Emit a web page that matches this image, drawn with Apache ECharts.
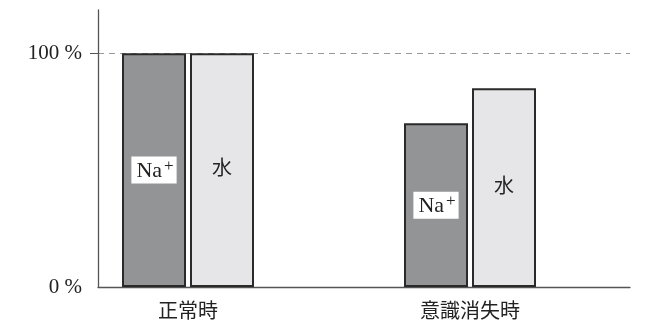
<!DOCTYPE html>
<html>
<head>
<meta charset="utf-8">
<script src="https://cdn.jsdelivr.net/npm/echarts@6/dist/echarts.min.js"></script>
<style>html,body{margin:0;padding:0;background:#fff}#c{width:654px;height:331px}</style>
</head>
<body>
<div id="c"></div>
<script>
const categories = ['正常時', '意識消失時'];
const seriesNames = ['Na+', '水'];
const naValues = [100, 70];
const waterValues = [100, 85];
const yTickLabels = {0: '0 %', 100: '100 %'};

const FONT = '"Liberation Serif", "Noto Sans CJK JP", serif';
const chart = echarts.init(document.getElementById('c'));
chart.setOption({
  animation: false,
  backgroundColor: '#fff',
  grid: [
    {left: 47, right: 43, top: 10, bottom: 44},
    {left: 98, right: 24, top: 10, bottom: 44}
  ],
  xAxis: [
    {gridIndex: 0, type: 'category', data: categories,
     axisLine: {show: false}, axisTick: {show: false},
     axisLabel: {fontFamily: FONT, fontSize: 20, color: '#222', margin: 16}},
    {gridIndex: 1, type: 'value', min: 0, max: 1,
     axisLine: {show: true, lineStyle: {color: '#555', width: 1.3}},
     axisTick: {show: false}, axisLabel: {show: false}, splitLine: {show: false}}
  ],
  yAxis: [
    {gridIndex: 0, type: 'value', min: 0, max: 118.5, show: false},
    {gridIndex: 1, type: 'value', min: 0, max: 118.5, interval: 100,
     axisLine: {show: true, lineStyle: {color: '#555', width: 1.3}},
     axisTick: {show: true, length: 8, customValues: [100], lineStyle: {color: '#555'}},
     axisLabel: {fontFamily: FONT, fontSize: 21, color: '#222', margin: 16,
       formatter: v => yTickLabels[v] !== undefined ? yTickLabels[v] : ''},
     splitLine: {show: true, lineStyle: {color: '#999', type: [6, 5], width: 1}}}
  ],
  series: [
    {name: seriesNames[0], type: 'bar', xAxisIndex: 0, yAxisIndex: 0,
     data: naValues, barWidth: 64, barGap: '6.25%',
     itemStyle: {color: '#939496', borderColor: '#2a2a2a', borderWidth: 2},
     label: {show: true, position: 'inside',
       formatter: '{n|Na}{s|+}',
       backgroundColor: '#fff', padding: [3, 3, 1, 5],
       rich: {
         n: {fontFamily: FONT, fontSize: 22, color: '#222', lineHeight: 23},
         s: {fontFamily: FONT, fontSize: 17, color: '#222', padding: [0, 0, 10, 2], lineHeight: 15}
       }}},
    {name: seriesNames[1], type: 'bar', xAxisIndex: 0, yAxisIndex: 0,
     data: waterValues, barWidth: 64,
     itemStyle: {color: '#e6e6e8', borderColor: '#2a2a2a', borderWidth: 2},
     label: {show: true, position: 'inside', formatter: '水',
       fontFamily: FONT, fontSize: 20, color: '#222'}}
  ]
});
</script>
</body>
</html>
